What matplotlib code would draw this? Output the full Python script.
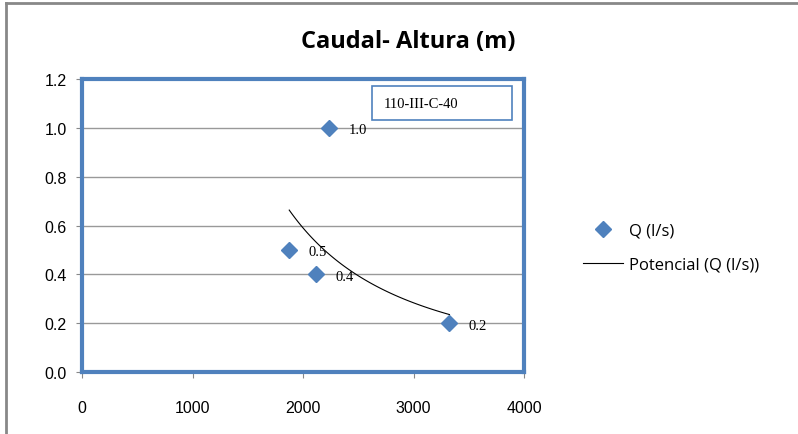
import matplotlib.pyplot as plt
from matplotlib.lines import Line2D
from matplotlib.patches import Rectangle
import numpy as np

# data
caudal = [2235, 1875, 2120, 3325]     # Q (l/s)
altura = [1.0, 0.5, 0.4, 0.2]         # m
etiquetas = ["1.0", "0.5", "0.4", "0.2"]
yticks = [0.0, 0.2, 0.4, 0.6, 0.8, 1.0, 1.2]
xticks = [0, 1000, 2000, 3000, 4000]

azul = "#4F81BD"

fig = plt.figure(figsize=(7.98, 4.35), dpi=100)
ax = fig.add_axes([0.1028, 0.1425, 0.5539, 0.6736])

# power trendline fitted in log space
b, lna = np.polyfit(np.log(caudal), np.log(altura), 1)
xt = np.linspace(min(caudal), max(caudal), 100)
yt = np.exp(lna) * xt ** b

ax.plot(caudal, altura, "D", color=azul, markersize=8, linestyle="none", label="Q (l/s)", zorder=3)
ax.plot(xt, yt, color="black", linewidth=0.8, label="Potencial (Q (l/s))", zorder=2)

for x, y, t in zip(caudal, altura, etiquetas):
    ax.annotate(t, (x, y), xytext=(14, -4), textcoords="offset points",
                fontsize=10.5, family="Liberation Serif")

ax.set_xlim(0, 4000)
ax.set_ylim(0, 1.2)
ax.set_xticks(xticks)
ax.set_yticks(yticks)
ax.set_yticklabels(["%.1f" % v for v in yticks])
ax.tick_params(labelsize=11.5, length=4, color="#888888")
ax.tick_params(axis="y", pad=7)
ax.tick_params(axis="x", pad=16)
for lab in ax.get_xticklabels() + ax.get_yticklabels():
    lab.set_family("Liberation Sans")
ax.grid(axis="y", color="#999999", linewidth=1)
ax.set_axisbelow(True)
for s in ax.spines.values():
    s.set_color(azul)
    s.set_linewidth(3)

# label box inside the plot
ax.add_patch(Rectangle((0.656, 0.860), 0.317, 0.116, transform=ax.transAxes,
                       facecolor="white", edgecolor=azul, linewidth=1.2, zorder=4))
ax.text(0.683, 0.918, "110-III-C-40", transform=ax.transAxes, fontsize=10.5,
        family="Liberation Serif", va="center", ha="left", zorder=5)

fig.text(0.512, 0.903, "Caudal- Altura (m)", ha="center", va="center",
         fontsize=17, fontweight="bold", family="Open Sans")

fig.legend(loc="center left", bbox_to_anchor=(0.7306, 0.4287), frameon=False,
           prop={"family": "Open Sans", "size": 12}, handlelength=2.4,
           handletextpad=0.35, labelspacing=1.1, borderpad=0, borderaxespad=0)

# gray frame of the chart area
fig.add_artist(Line2D([0.0075, 1], [0.99, 0.99], color="#888888", linewidth=2, transform=fig.transFigure))
fig.add_artist(Line2D([0.0075, 0.0075], [0, 0.99], color="#888888", linewidth=2, transform=fig.transFigure))

fig.savefig("out.png", dpi=100)
